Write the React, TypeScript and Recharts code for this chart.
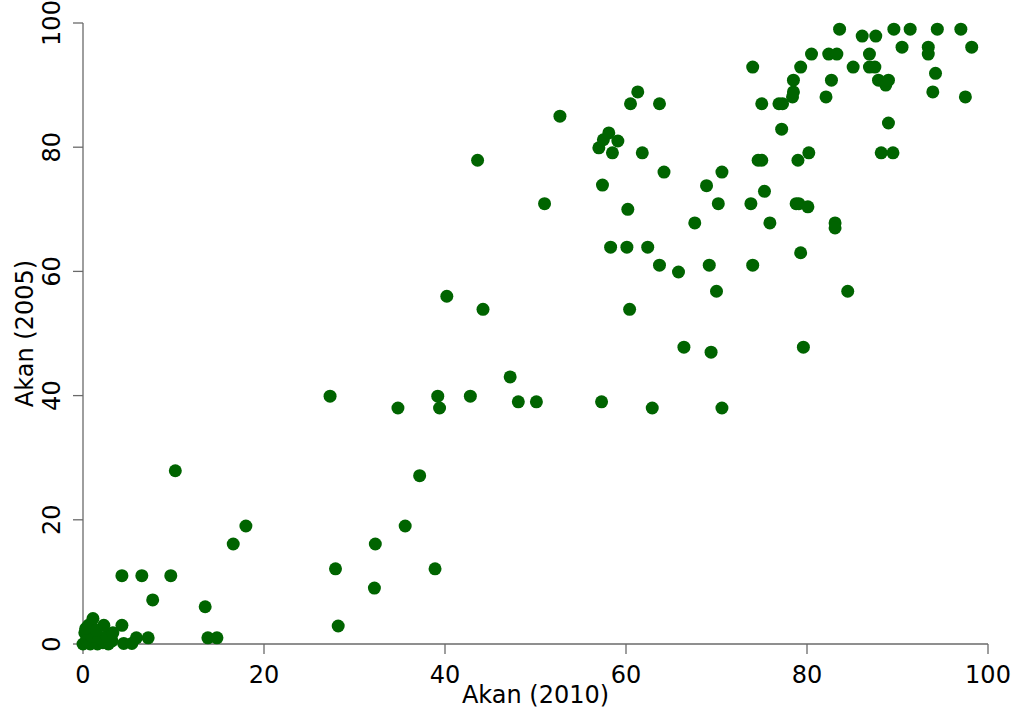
import { ScatterChart, Scatter, XAxis, YAxis } from "recharts"

// Akan (2010) vs Akan (2005), one entry per point
const akan2010 = [
  0, 0.4, 0.8, 1.2, 1.6, 2.2, 2.8, 3.2, 0.2, 1.0, 1.8, 2.6, 3.3, 0.6, 1.1, 2.3, 0.3, 1.5, 4.3, 4.5,
  5.4, 5.9, 7.2, 4.3, 6.5, 9.7, 7.7, 13.5, 13.8, 14.8, 10.2, 16.6, 18.0, 27.3, 27.9, 28.2, 32.2, 32.3,
  34.8, 35.6, 37.2, 38.9, 39.2, 39.4, 40.2, 42.8, 43.6, 44.2, 47.2, 48.1, 50.1, 51.0, 52.7, 57.3,
  57.4, 57.0, 57.5, 58.1, 59.1, 58.5, 58.3, 60.1, 62.4, 60.2, 60.4, 60.5, 61.3, 61.8, 62.9, 63.7,
  63.7, 64.2, 65.8, 66.4, 67.6, 68.9, 69.2, 69.4, 70.0, 70.2, 70.6, 70.6, 73.8, 74.0, 74.0, 74.6,
  75.0, 75.0, 75.3, 75.9, 76.9, 77.3, 77.2, 78.4, 78.5, 78.5, 78.8, 79.1, 79.0, 79.3, 79.3, 79.6,
  80.1, 80.2, 80.5, 82.1, 82.4, 82.7, 83.1, 83.1, 83.3, 83.6, 84.5, 85.1, 86.1, 86.9, 86.9, 87.5,
  87.6, 87.9, 88.2, 88.7, 89.0, 89.0, 89.5, 89.6, 90.5, 91.4, 93.4, 93.4, 93.9, 94.2, 94.4, 97.0,
  97.5, 98.2,
]
const akan2005 = [
  0, 0.5, 0, 0.3, 0, 0.2, 0, 0.5, 1.8, 1.2, 1.0, 1.2, 1.8, 3.0, 4.1, 3.0, 2.5, 2.2, 3.0, 0.1,
  0.1, 1.0, 1.0, 11.0, 11.0, 11.0, 7.1, 6.0, 1.0, 1.0, 27.9, 16.1, 19.0, 39.9, 12.1, 2.9, 9.0, 16.1,
  38.0, 19.0, 27.1, 12.1, 39.9, 38.0, 56.0, 39.9, 77.9, 53.9, 43.0, 39.0, 39.0, 70.9, 85.0, 39.0,
  73.9, 79.9, 81.2, 82.3, 81.0, 79.1, 63.9, 63.9, 63.9, 70.0, 53.9, 87.0, 88.9, 79.1, 38.0, 87.0,
  61.0, 76.0, 59.9, 47.8, 67.8, 73.8, 61.0, 47.0, 56.8, 70.9, 76.0, 38.0, 70.9, 61.0, 92.9, 77.9,
  77.9, 87.0, 72.9, 67.8, 87.0, 87.0, 82.9, 88.1, 88.9, 90.8, 70.9, 70.9, 77.9, 92.9, 63.0, 47.8,
  70.4, 79.1, 95.0, 88.1, 95.0, 90.8, 67.8, 67.0, 95.0, 99.0, 56.8, 92.9, 97.9, 95.0, 92.9, 92.9,
  97.9, 90.8, 79.1, 90.0, 90.8, 83.9, 79.1, 99.0, 96.1, 99.0, 96.1, 95.0, 88.9, 91.9, 99.0, 99.0,
  88.1, 96.1,
]
const axisTicks = [0, 20, 40, 60, 80, 100]

const points = akan2010.map((x, i) => ({ x, y: akan2005[i] }))

const FONT = "DejaVu Sans"
const AXIS = "#6a6a6a"

function XTick({ x, y, payload }: any) {
  return (
    <text x={x} y={y + 27} textAnchor="middle" fontFamily={FONT} fontSize={24} fill="#000">
      {payload.value}
    </text>
  )
}

function YTick({ x, y, payload }: any) {
  const bx = x - 11
  return (
    <text x={bx} y={y} transform={`rotate(-90, ${bx}, ${y})`} textAnchor="middle"
      fontFamily={FONT} fontSize={24} fill="#000">
      {payload.value}
    </text>
  )
}

function XLabel({ viewBox }: any) {
  return (
    <text x={viewBox.x + viewBox.width / 2} y={viewBox.y + 59} textAnchor="middle"
      fontFamily={FONT} fontSize={24} fill="#000">
      Akan (2010)
    </text>
  )
}

function YLabel({ viewBox }: any) {
  const cx = viewBox.x + 33
  const cy = viewBox.y + viewBox.height / 2
  return (
    <text x={cx} y={cy} transform={`rotate(-90, ${cx}, ${cy})`} textAnchor="middle"
      fontFamily={FONT} fontSize={24} fill="#000">
      Akan (2005)
    </text>
  )
}

const Dot = (props: any) => <circle cx={props.cx} cy={props.cy} r={6.5} fill="#006400" />

export default function App() {
  return (
    <div style={{ position: "absolute", left: 0, top: 0, background: "#fff" }}>
      <ScatterChart width={1016} height={712} margin={{ top: 23, right: 28, bottom: 0, left: 0 }}>
        <XAxis
          type="number"
          dataKey="x"
          domain={[0, 100]}
          ticks={axisTicks}
          height={68}
          tickSize={10}
          stroke={AXIS}
          strokeWidth={1.3}
          tick={<XTick />}
          label={<XLabel />}
        />
        <YAxis
          type="number"
          dataKey="y"
          domain={[0, 100]}
          ticks={axisTicks}
          width={83}
          tickSize={10}
          stroke={AXIS}
          strokeWidth={1.3}
          tick={<YTick />}
          label={<YLabel />}
        />
        <Scatter data={points} shape={<Dot />} isAnimationActive={false} />
      </ScatterChart>
    </div>
  )
}
